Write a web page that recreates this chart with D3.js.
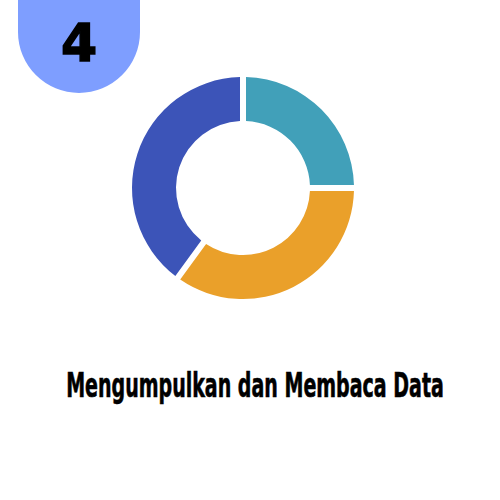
<!DOCTYPE html>
<html><head><meta charset="utf-8">
<script src="https://cdn.jsdelivr.net/npm/d3@7"></script>
<style>html,body{margin:0;padding:0;background:#fff;}svg{display:block;}</style>
</head><body>
<script>
const categories = ["A", "B", "C"];
const values = [25, 35, 40];
const colors = ["#41A0B9", "#EAA02A", "#3C54B8"];
const badgeLabel = "4";
const title = "Mengumpulkan dan Membaca Data";

const W = 500, H = 500;
const svg = d3.select("body").append("svg").attr("width", W).attr("height", H);

// badge
const bx = 18, bw = 122, bBottom = 93, br = bw / 2;
svg.append("path")
  .attr("d", `M${bx},-5 L${bx + bw},-5 L${bx + bw},${bBottom - br} A${br},${br} 0 0 1 ${bx},${bBottom - br} Z`)
  .attr("fill", "#7E9EFF");
svg.append("text").attr("x", bx + br).attr("y", 61)
  .attr("text-anchor", "middle")
  .attr("font-family", "'DejaVu Sans', sans-serif").attr("font-weight", "bold")
  .attr("font-size", 52).attr("fill", "#000").attr("stroke", "#000").attr("stroke-width", 1.5)
  .text(badgeLabel);

// donut
const cx = 243, cy = 188, R = 111, r = 67;
const pie = d3.pie().sort(null).value(d => d)(values);
const arc = d3.arc().innerRadius(r).outerRadius(R).padAngle(6 / 111).padRadius(111);
const g = svg.append("g").attr("transform", `translate(${cx},${cy})`);
g.selectAll("path").data(pie).enter().append("path")
  .attr("d", arc).attr("fill", (d, i) => colors[i]);

// title
const tg = svg.append("g");
const t = tg.append("text").attr("x", 0).attr("y", 0)
  .attr("text-anchor", "middle")
  .attr("font-family", "'DejaVu Sans Condensed', 'Liberation Sans Narrow', sans-serif")
  .attr("font-weight", "bold").attr("font-size", 34)
  .attr("fill", "#000").attr("stroke", "#000").attr("stroke-width", 0.6)
  .text(title);
const len = t.node().getComputedTextLength();
tg.attr("transform", `translate(255,397) scale(${378 / len},1)`);
</script>
</body></html>
